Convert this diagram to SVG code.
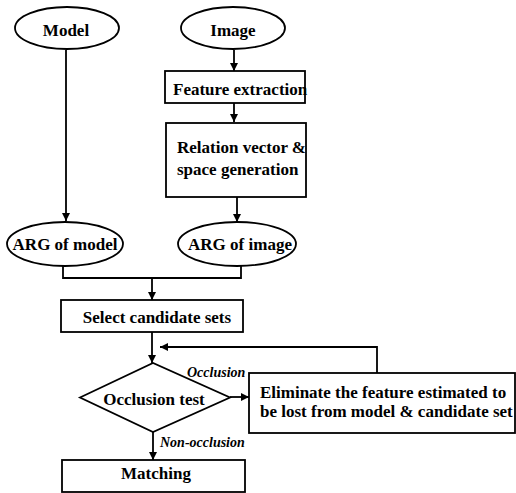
<svg xmlns="http://www.w3.org/2000/svg" width="516" height="493" viewBox="0 0 516 493">
<defs>
<marker id="ah" viewBox="0 0 10 10" refX="10" refY="5" markerWidth="8" markerHeight="8" markerUnits="userSpaceOnUse" orient="auto">
<path d="M0,0 L10,5 L0,10 z" fill="#000"/>
</marker>
<style>
.s{fill:#fff;stroke:#000;stroke-width:1.8}
.t{font-family:"Liberation Serif","Times New Roman",serif;font-weight:bold;font-size:17px;fill:#000}
.c{text-anchor:middle}
.l{font-family:"Liberation Serif","Times New Roman",serif;font-weight:bold;font-style:italic;font-size:14px;fill:#000}
.e{fill:none;stroke:#000;stroke-width:1.8}
</style>
</defs>
<rect width="516" height="493" fill="#fff"/>
<g id="connectors">
<path class="e" d="M66,50 V221" marker-end="url(#ah)"/>
<path class="e" d="M234,50 V71" marker-end="url(#ah)"/>
<path class="e" d="M234,103 V122" marker-end="url(#ah)"/>
<path class="e" d="M237,197 V222" marker-end="url(#ah)"/>
<path class="e" d="M63,266 V278 H241 V266"/>
<path class="e" d="M152,278 V300" marker-end="url(#ah)"/>
<path class="e" d="M152,332 V363" marker-end="url(#ah)"/>
<path class="e" d="M230,397 H249" marker-end="url(#ah)"/>
<path class="e" d="M377,373 V347 H160" marker-end="url(#ah)"/>
<path class="e" d="M153,432 V460" marker-end="url(#ah)"/>
<text class="l" x="187" y="377">Occlusion</text>
<text class="l" x="160" y="447">Non-occlusion</text>
</g>
<g id="model"><ellipse class="s" cx="67" cy="28" rx="52" ry="21"/><text class="t c" x="66" y="36">Model</text></g>
<g id="image"><ellipse class="s" cx="233" cy="28" rx="52" ry="21"/><text class="t c" x="233" y="36">Image</text></g>
<g id="feature"><rect class="s" x="165" y="71" width="140" height="32"/><text class="t" x="173" y="95">Feature extraction</text></g>
<g id="relation"><rect class="s" x="166" y="123" width="140" height="74"/><text class="t" x="177" y="153">Relation vector &amp;</text><text class="t" x="177" y="175">space generation</text></g>
<g id="argmodel"><ellipse class="s" cx="65" cy="244" rx="58" ry="22"/><text class="t c" x="65" y="250">ARG of model</text></g>
<g id="argimage"><ellipse class="s" cx="237" cy="244" rx="59" ry="22"/><text class="t c" x="240" y="250">ARG of image</text></g>
<g id="select"><rect class="s" x="61" y="300" width="182" height="32"/><text class="t c" x="157" y="323">Select candidate sets</text></g>
<g id="occtest"><path class="s" d="M80,397.5 L153,363 L230,397.5 L153,432 z"/><text class="t c" x="154" y="405">Occlusion test</text></g>
<g id="eliminate"><rect class="s" x="249" y="373" width="266" height="60"/><text class="t" x="260" y="398">Eliminate the feature estimated to</text><text class="t" x="260" y="417">be lost from model &amp; candidate set</text></g>
<g id="matching"><rect class="s" x="62" y="460" width="183" height="32"/><text class="t c" x="156" y="479">Matching</text></g>
</svg>
